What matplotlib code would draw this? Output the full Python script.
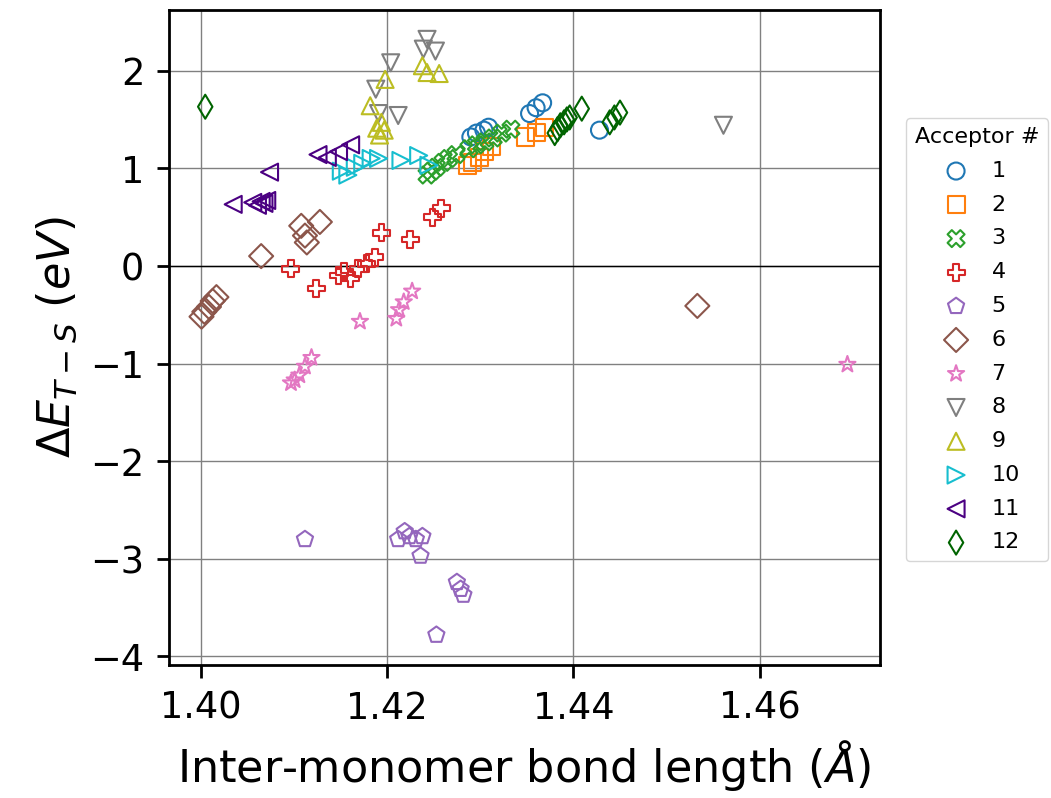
import numpy as np
import matplotlib
matplotlib.use("Agg")
import matplotlib.pyplot as plt

# bond length (Angstrom) and triplet-singlet gap (eV) per acceptor
x1 = [1.4353, 1.4360, 1.4367, 1.4290, 1.4296, 1.4304, 1.4309, 1.4428]
y1 = [1.56, 1.62, 1.67, 1.32, 1.36, 1.39, 1.42, 1.39]

x2 = [1.4286, 1.4292, 1.4299, 1.4305, 1.4312, 1.4349, 1.4360, 1.4369]
y2 = [1.03, 1.06, 1.11, 1.17, 1.22, 1.32, 1.37, 1.42]

x3 = [1.4243, 1.4248, 1.4253, 1.4260, 1.4266, 1.4274, 1.4288, 1.4296,
      1.4305, 1.4314, 1.4323, 1.4333]
y3 = [0.93, 0.97, 1.01, 1.06, 1.10, 1.14, 1.20, 1.24, 1.27, 1.31, 1.36, 1.40]

x4 = [1.4097, 1.4124, 1.4148, 1.4154, 1.4161, 1.4169, 1.4178, 1.4187,
      1.4194, 1.4225, 1.4249, 1.4258]
y4 = [-0.03, -0.23, -0.10, -0.06, -0.13, -0.03, 0.02, 0.09, 0.34, 0.27, 0.50, 0.59]

x5 = [1.4112, 1.4212, 1.4219, 1.4224, 1.4231, 1.4238, 1.4236, 1.4275,
      1.4279, 1.4282, 1.4253]
y5 = [-2.80, -2.80, -2.72, -2.77, -2.80, -2.77, -2.97, -3.24, -3.31, -3.37, -3.78]

x6 = [1.4065, 1.4108, 1.4112, 1.4114, 1.4128, 1.4001, 1.4004, 1.4009,
      1.4013, 1.4017, 1.4533]
y6 = [0.10, 0.41, 0.31, 0.24, 0.45, -0.52, -0.47, -0.42, -0.36, -0.32, -0.41]

x7 = [1.4171, 1.4210, 1.4213, 1.4218, 1.4227, 1.4097, 1.4101, 1.4106,
      1.4112, 1.4119, 1.4694]
y7 = [-0.57, -0.54, -0.45, -0.37, -0.26, -1.20, -1.17, -1.12, -1.03, -0.94, -1.01]

x8 = [1.4243, 1.4239, 1.4252, 1.4204, 1.4188, 1.4191, 1.4212, 1.4561]
y8 = [2.32, 2.22, 2.20, 2.08, 1.81, 1.56, 1.54, 1.44]

x9 = [1.4198, 1.4182, 1.4194, 1.4189, 1.4192, 1.4197, 1.4238, 1.4243, 1.4256]
y9 = [1.91, 1.64, 1.47, 1.41, 1.34, 1.39, 2.05, 1.98, 1.97]

x10 = [1.4151, 1.4158, 1.4166, 1.4174, 1.4183, 1.4191, 1.4215, 1.4234, 1.4245]
y10 = [0.97, 0.93, 1.01, 1.05, 1.10, 1.10, 1.08, 1.13, 1.03]

x11 = [1.4035, 1.4056, 1.4061, 1.4065, 1.4068, 1.4071, 1.4074, 1.4126,
       1.4136, 1.4148, 1.4161]
y11 = [0.63, 0.65, 0.62, 0.66, 0.64, 0.67, 0.96, 1.14, 1.11, 1.17, 1.24]

x12 = [1.4005, 1.4380, 1.4383, 1.4386, 1.4390, 1.4393, 1.4396, 1.4409,
       1.4439, 1.4444, 1.4450]
y12 = [1.63, 1.36, 1.40, 1.44, 1.47, 1.50, 1.52, 1.61, 1.47, 1.52, 1.57]

xs = [x1, x2, x3, x4, x5, x6, x7, x8, x9, x10, x11, x12]
ys = [y1, y2, y3, y4, y5, y6, y7, y8, y9, y10, y11, y12]
labels = [str(i) for i in range(1, 13)]
markers = ['o', 's', 'X', 'P', 'p', 'D', '*', 'v', '^', '>', '<', 'd']
colors = ['tab:blue', 'tab:orange', 'tab:green', 'tab:red', 'tab:purple',
          'tab:brown', 'tab:pink', 'tab:gray', 'tab:olive', 'tab:cyan',
          'indigo', 'darkgreen']

fig = plt.figure(figsize=(10.51, 7.98), dpi=100)
ax = fig.add_axes([0.161, 0.167, 0.676, 0.821])

for x, y, m, c, lab in zip(xs, ys, markers, colors, labels):
    ax.scatter(x, y, marker=m, s=150, facecolors='none', edgecolors=c,
               linewidths=1.5, label=lab, zorder=3)

ax.axhline(0, color='k', lw=1.0, zorder=1)
ax.grid(True, color='gray', lw=1.0, zorder=0)
ax.set_axisbelow(True)

ax.set_xticks([1.40, 1.42, 1.44, 1.46])
ax.set_yticks([-4, -3, -2, -1, 0, 1, 2])
ax.tick_params(labelsize=26.5, width=2, length=9, pad=9)
for sp in ax.spines.values():
    sp.set_linewidth(2)

ax.set_xlabel(r'Inter-monomer bond length ($\AA$)', fontsize=32, labelpad=8)
ax.set_ylabel(r'$\Delta E_{T-S}$ $(eV)$', fontsize=32, labelpad=8)

ax.legend(title='Acceptor #', loc='center left', bbox_to_anchor=(1.021, 0.496),
          fontsize=16, title_fontsize=16, labelspacing=0.62, handletextpad=0.6,
          borderpad=0.4)

fig.savefig('out.png', dpi=100)
